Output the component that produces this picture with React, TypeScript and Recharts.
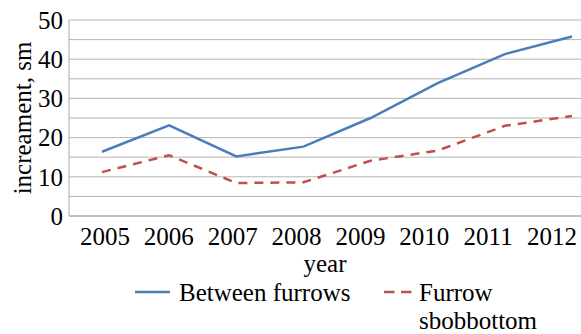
import React from 'react';
import { LineChart, Line, XAxis, YAxis, CartesianGrid, Legend } from 'recharts';

const years = ['2005', '2006', '2007', '2008', '2009', '2010', '2011', '2012'];
const betweenFurrows = [16.4, 23.1, 15.2, 17.7, 25.0, 33.9, 41.3, 45.8];
const furrowBottom = [11.2, 15.5, 8.4, 8.6, 14.1, 16.7, 23.0, 25.5];
const yTicks = [0, 5, 10, 15, 20, 25, 30, 35, 40, 45, 50];

const data = years.map((y, i) => ({ year: y, between: betweenFurrows[i], furrow: furrowBottom[i] }));

const FONT = "'Liberation Serif', 'Times New Roman', serif";
const BLUE = '#4a7ebb';
const RED = '#c0504d';
const textStyle = { fontFamily: FONT, fontSize: 25 };

function LegendContent() {
  return (
    <svg width={581} height={54} style={{ display: 'block', overflow: 'visible' }}>
      <line x1={135} x2={170} y1={12} y2={12} stroke={BLUE} strokeWidth={2.5} />
      <text x={179} y={20.5} style={textStyle} fill="#000">Between furrows</text>
      <line x1={384} x2={412} y1={12} y2={12} stroke={RED} strokeWidth={2.5} strokeDasharray="10.5 6.5" />
      <text x={419} y={20.5} style={textStyle} fill="#000">Furrow</text>
      <text x={419} y={48.5} style={textStyle} fill="#000">sbobbottom</text>
    </svg>
  );
}

function YLabel(props: any) {
  const vb = props.viewBox || { x: 0, y: 20, width: 69, height: 196 };
  const cx = vb.x + 31;
  const cy = vb.y + vb.height / 2;
  return (
    <text transform={`translate(${cx},${cy}) rotate(-90)`} textAnchor="middle" style={textStyle} fill="#000">
      increament, sm
    </text>
  );
}

function XLabel(props: any) {
  const vb = props.viewBox || { x: 69, y: 216, width: 512, height: 64 };
  return (
    <text x={vb.x + vb.width / 2} y={vb.y + 55.5} textAnchor="middle" style={textStyle} fill="#000">
      year
    </text>
  );
}

export default function App() {
  return (
    <div style={{ position: 'absolute', left: 0, top: 0, width: 581, height: 334, overflow: 'hidden', background: '#fff', fontFamily: FONT }}>
      <LineChart width={581} height={334} data={data} margin={{ top: 20, right: 0, left: 0, bottom: 0 }} style={{ fontFamily: FONT }}>
        <CartesianGrid vertical={false} stroke="#b5b5b5" strokeWidth={1} />
        <XAxis
          dataKey="year"
          height={64}
          padding={{ left: 36, right: 29 }}
          tickLine={false}
          tickSize={6}
          tickMargin={5}
          axisLine={{ stroke: '#a6a6a6' }}
          interval={0}
          tick={{ fontSize: 25, fill: '#000', fontFamily: FONT, style: textStyle }}
          label={<XLabel />}
        />
        <XAxis xAxisId="data" dataKey="year" hide padding={{ left: 33, right: 9 }} />
        <YAxis
          width={69}
          domain={[0, 50]}
          ticks={yTicks}
          interval={0}
          tickLine={false}
          tickSize={4}
          tickMargin={2}
          axisLine={{ stroke: '#a6a6a6' }}
          tickFormatter={(v: number) => (v % 10 === 0 ? String(v) : '')}
          tick={{ fontSize: 25, fill: '#000', fontFamily: FONT, style: textStyle }}
          label={<YLabel />}
        />
        <Legend verticalAlign="bottom" content={<LegendContent />} />
        <Line xAxisId="data" type="linear" dataKey="between" name="Between furrows" stroke={BLUE} strokeWidth={2.5} dot={false} isAnimationActive={false} />
        <Line xAxisId="data" type="linear" dataKey="furrow" name="Furrow sbobbottom" stroke={RED} strokeWidth={2.5} strokeDasharray="9 7" dot={false} isAnimationActive={false} />
      </LineChart>
    </div>
  );
}
